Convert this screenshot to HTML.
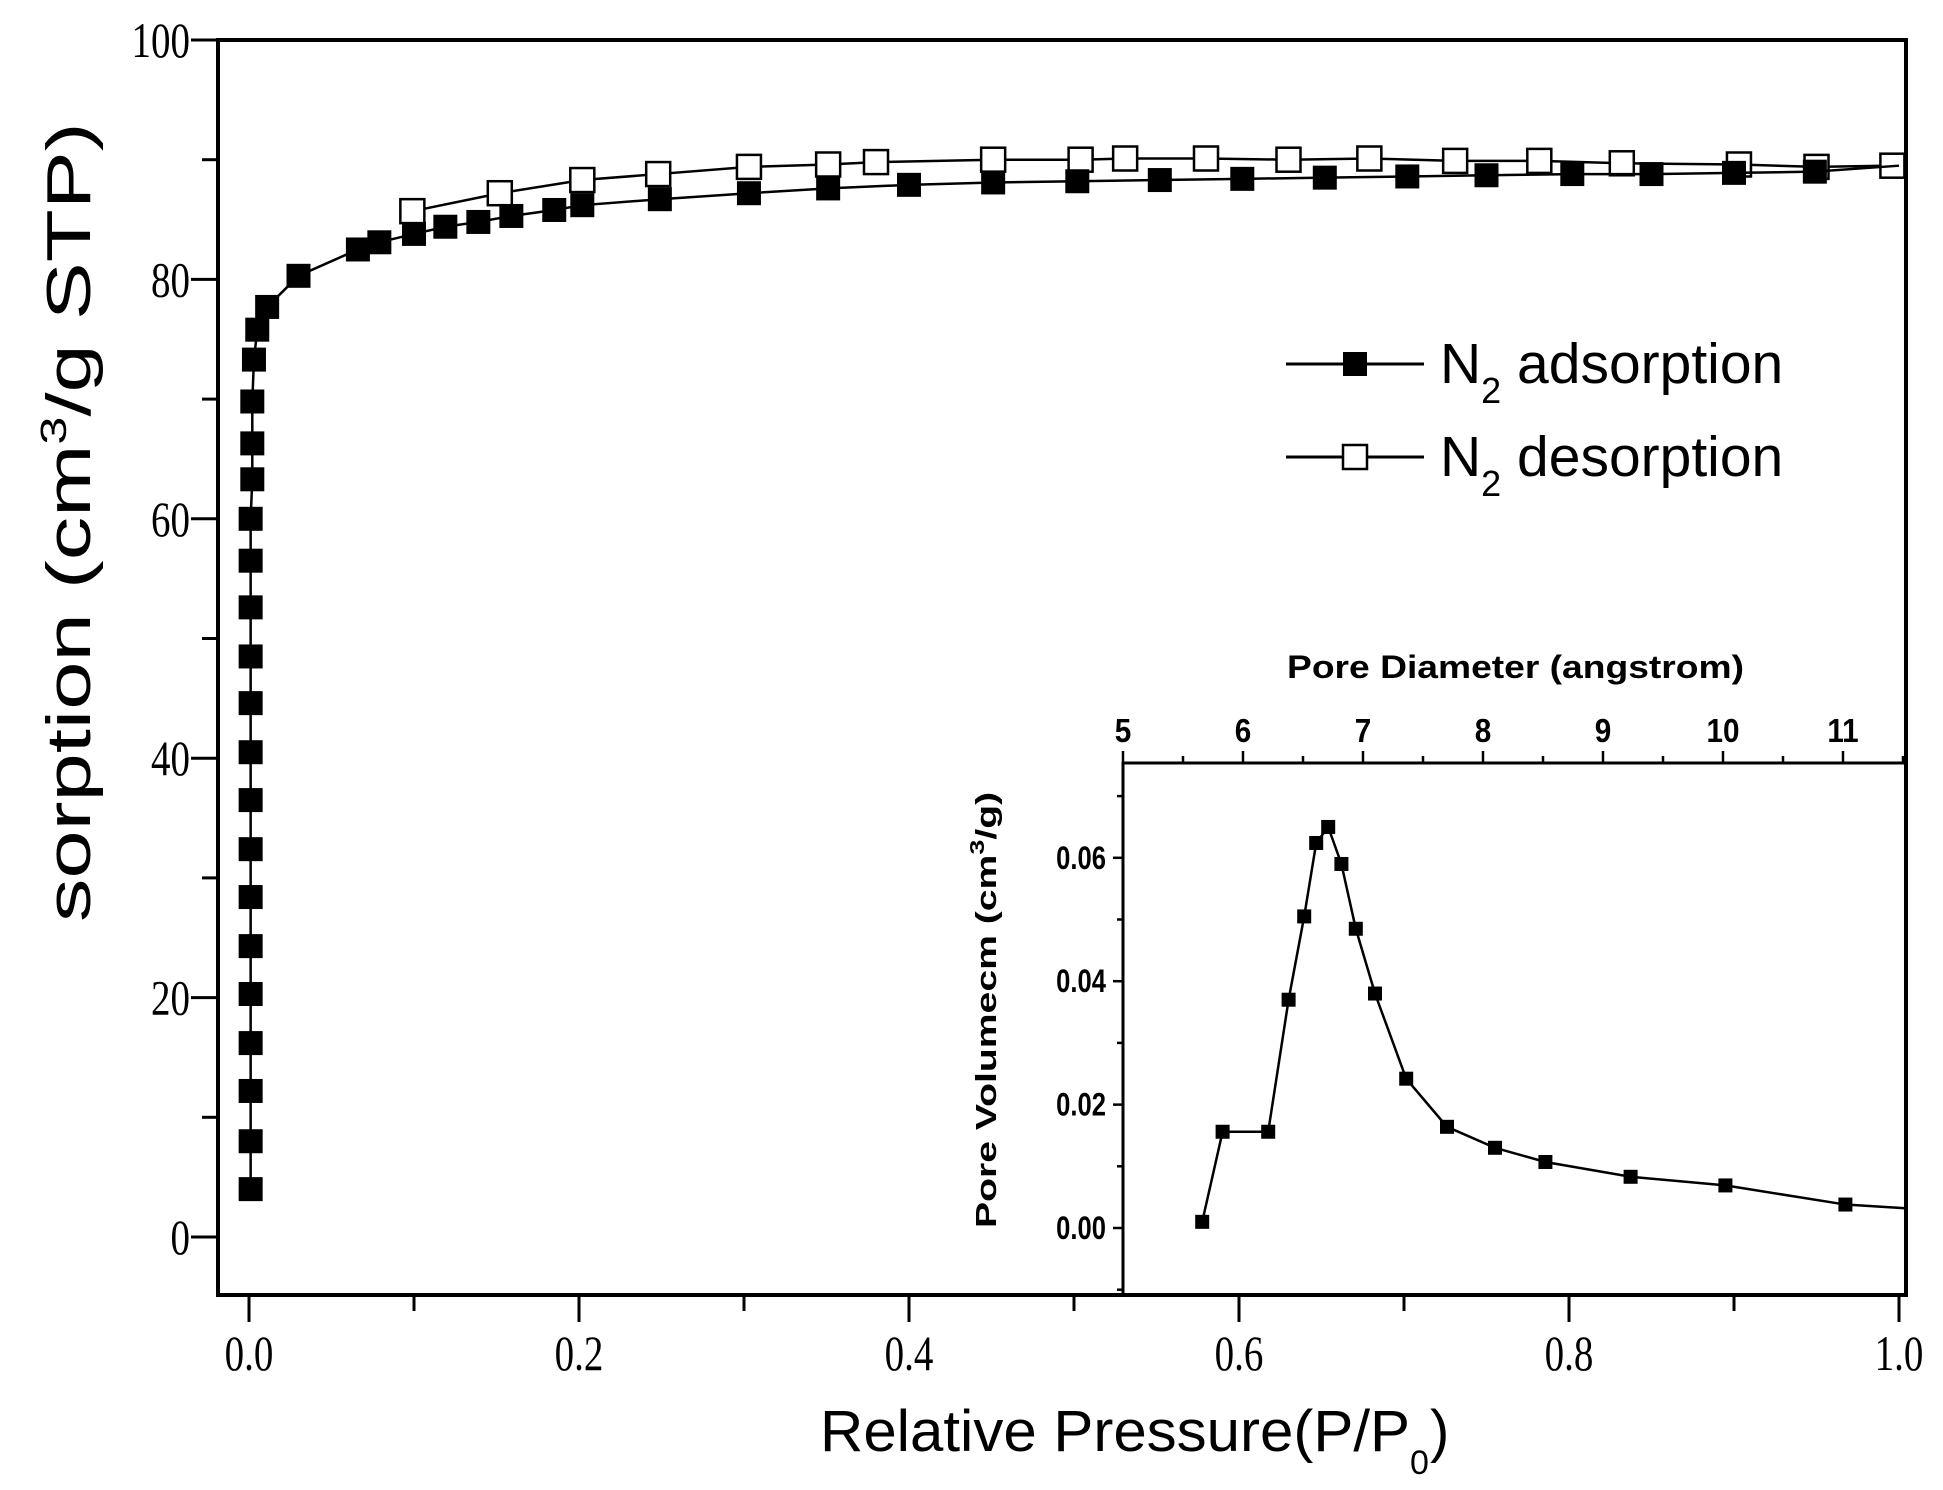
<!DOCTYPE html>
<html><head><meta charset="utf-8"><style>
html,body{margin:0;padding:0;background:#fff;}
svg{display:block;}
</style></head><body>
<svg id="chart" width="1943" height="1490" viewBox="0 0 1943 1490" xmlns="http://www.w3.org/2000/svg">
<g id="main"></g>
<g id="inset"></g>
</svg>
<script>
// ---- main chart data ----
const adsX = [0.001,0.001,0.001,0.001,0.001,0.001,0.001,0.001,0.001,0.001,0.001,0.001,0.001,0.001,0.001,0.002,0.002,0.002,0.003,0.005,0.011,0.030,0.066,0.079,0.10,0.119,0.139,0.159,0.185,0.202,0.249,0.303,0.351,0.40,0.451,0.502,0.552,0.602,0.652,0.702,0.75,0.802,0.85,0.90,0.949];
const adsY = [4,8,12.2,16.2,20.3,24.3,28.4,32.4,36.5,40.5,44.6,48.5,52.6,56.5,60,63.3,66.3,69.8,73.3,75.8,77.7,80.3,82.5,83.1,83.8,84.4,84.8,85.3,85.8,86.2,86.7,87.2,87.6,87.9,88.1,88.2,88.3,88.4,88.5,88.6,88.7,88.8,88.8,88.9,89.0];
const desX = [0.099,0.152,0.202,0.248,0.303,0.351,0.38,0.451,0.504,0.531,0.58,0.63,0.679,0.731,0.782,0.832,0.903,0.95,0.996];
const desY = [85.7,87.2,88.3,88.8,89.4,89.6,89.8,90.0,90.0,90.1,90.1,90.0,90.1,89.9,89.9,89.7,89.6,89.4,89.5];
const xTicks = ["0.0","0.2","0.4","0.6","0.8","1.0"];
const yTicks = ["0","20","40","60","80","100"];
// ---- inset data ----
const poreD = [5.66,5.83,6.21,6.38,6.51,6.61,6.71,6.82,6.94,7.10,7.36,7.70,8.10,8.52,9.23,10.02,11.02];
const poreV = [0.001,0.0156,0.0156,0.037,0.0505,0.0624,0.065,0.059,0.0485,0.038,0.0242,0.0164,0.013,0.0107,0.0083,0.0069,0.0038];
const poreEndD = [11.52];
const poreEndV = [0.0032];
const insetXTicks = ["5","6","7","8","9","10","11"];
const insetYTicks = ["0.00","0.02","0.04","0.06"];

const NS="http://www.w3.org/2000/svg";
function mk(parent,tag,attrs,text){const e=document.createElementNS(NS,tag);for(const k in attrs)e.setAttribute(k,attrs[k]);if(text!==undefined)e.textContent=text;parent.appendChild(e);return e;}

const main=document.getElementById('main');
const inset=document.getElementById('inset');
const X0=249,X1=1899,Y0=1237,Y100=40;
const sx=v=>X0+(X1-X0)*v;
const sy=v=>Y0-(Y0-Y100)*v/100;
const FL=218,FR=1906,FT=40,FB=1295;

let f=mk(main,'rect',{x:FL,y:FT,width:FR-FL,height:FB-FT,fill:'none',stroke:'#000','stroke-width':4});



for(let i=0;i<=10;i++){
  const v=i/10, x=sx(v), major=i%2===0;
  const t=mk(main,'line',{x1:x,y1:FB,x2:x,y2:FB+(major?27:16),stroke:'#000','stroke-width':3});
  
  
}
xTicks.forEach((s,i)=>{
  const x=sx(parseFloat(s));
  const t=mk(main,'text',{transform:`translate(${x},1370) scale(0.78,1)`,'text-anchor':'middle','font-family':'Liberation Serif, serif','font-size':50},s);
  
  
});
for(let i=0;i<=10;i++){
  const v=i*10, y=sy(v), major=i%2===0;
  const t=mk(main,'line',{x1:FL,y1:y,x2:FL-(major?27:16),y2:y,stroke:'#000','stroke-width':3});
  
  
}
yTicks.forEach(s=>{
  const y=sy(parseFloat(s));
  const t=mk(main,'text',{transform:`translate(190,${y+17}) scale(0.78,1)`,'text-anchor':'end','font-family':'Liberation Serif, serif','font-size':50},s);
  
  
});
let xt=mk(main,'text',{x:820,y:1451,'font-family':'Liberation Sans, sans-serif','font-size':58,textLength:590,lengthAdjust:'spacingAndGlyphs'},'Relative Pressure(P/P');


mk(main,'text',{x:1410,y:1474,'font-family':'Liberation Sans, sans-serif','font-size':34},'0');
mk(main,'text',{x:1430,y:1451,'font-family':'Liberation Sans, sans-serif','font-size':58},')');

let yt=mk(main,'text',{transform:'translate(90,922) rotate(-90) scale(1.4,1)','font-family':'Liberation Sans, sans-serif','font-size':62},'');


mk(yt,'tspan',{},'sorption (cm');
mk(yt,'tspan',{'font-size':36,dy:-24},'3');
mk(yt,'tspan',{dy:24},'/g STP)');

function series(xs,ys,filled,name){
  const g=mk(main,'g',{});
  
  
  const pts=xs.map((x,i)=>sx(x)+','+sy(ys[i])).join(' ');
  mk(g,'polyline',{points:pts,fill:'none',stroke:'#000','stroke-width':2.5});
  xs.forEach((x,i)=>{
    const r=mk(g,'rect',{x:sx(x)-12,y:sy(ys[i])-12,width:24,height:24,fill:filled?'#000':'#fff',stroke:'#000','stroke-width':filled?0:2.5});
    
    
  });
  return g;
}
series(desX,desY,false,'desorption-series');
const ads=series(adsX,adsY,true,'adsorption-series');
mk(ads,'line',{x1:sx(adsX[adsX.length-1]),y1:sy(adsY[adsY.length-1]),x2:sx(1.0),y2:sy(89.5),stroke:'#000','stroke-width':2.5});

const lg=mk(main,'g',{});


[[364,true,'adsorption'],[457,false,'desorption']].forEach(([y,filled,label])=>{
  const e=mk(lg,'g',{});
  
  
  mk(e,'line',{x1:1286,y1:y,x2:1424,y2:y,stroke:'#000','stroke-width':3});
  mk(e,'rect',{x:1343,y:y-12,width:24,height:24,fill:filled?'#000':'#fff',stroke:'#000','stroke-width':filled?0:2.5});
  const t=mk(e,'text',{x:1440,y:y+19,'font-family':'Liberation Sans, sans-serif','font-size':57},'N');
  mk(t,'tspan',{'font-size':36,dy:20},'2');
  mk(t,'tspan',{dy:-20},' '+label);
});

// ---- inset ----
const IL=1123,IT=763,IR=1906,IB=1295;
const ix=d=>1123+(d-5)*120;
const iy=v=>1228-v*6170;
let ifr=mk(inset,'path',{d:`M${IL},${IB} L${IL},${IT} L${IR},${IT}`,fill:'none',stroke:'#000','stroke-width':3});


for(let i=0;i<=13;i++){
  const d=5+i*0.5,x=ix(d),major=i%2===0;
  mk(inset,'line',{x1:x,y1:IT,x2:x,y2:IT-(major?12:7),stroke:'#000','stroke-width':2.5});
}
insetXTicks.forEach(s=>{
  const t=mk(inset,'text',{transform:`translate(${ix(parseFloat(s))},742) scale(0.9,1)`,'text-anchor':'middle','font-family':'Liberation Sans, sans-serif','font-weight':'bold','font-size':33},s);
  
  
});
for(let i=-1;i<=7;i++){
  const v=i*0.01,y=iy(v),major=(i%2===0);
  mk(inset,'line',{x1:IL,y1:y,x2:IL-(major?10:6),y2:y,stroke:'#000','stroke-width':2.5});
}
insetYTicks.forEach(s=>{
  const t=mk(inset,'text',{transform:`translate(1106,${iy(parseFloat(s))+11}) scale(0.8,1)`,'text-anchor':'end','font-family':'Liberation Sans, sans-serif','font-weight':'bold','font-size':32},s);
  
  
});
let it=mk(inset,'text',{x:1287,y:678,'font-family':'Liberation Sans, sans-serif','font-weight':'bold','font-size':32,textLength:457,lengthAdjust:'spacingAndGlyphs'},'Pore Diameter (angstrom)');


let iyt=mk(inset,'text',{transform:'translate(996,1228) rotate(-90) scale(1.35,1)','font-family':'Liberation Sans, sans-serif','font-weight':'bold','font-size':29},'');


mk(iyt,'tspan',{},'Pore Volumecm (cm');
mk(iyt,'tspan',{'font-size':20,dy:-12},'3');
mk(iyt,'tspan',{dy:12},'/g)');

const ig=mk(inset,'g',{});


const allD=poreD.concat(poreEndD), allV=poreV.concat(poreEndV);
mk(ig,'polyline',{points:allD.map((d,i)=>ix(d)+','+iy(allV[i])).join(' '),fill:'none',stroke:'#000','stroke-width':2.5});
poreD.forEach((d,i)=>{
  const r=mk(ig,'rect',{x:ix(d)-7,y:iy(poreV[i])-7,width:14,height:14,fill:'#000'});
  
  
});
</script>
</body></html>
